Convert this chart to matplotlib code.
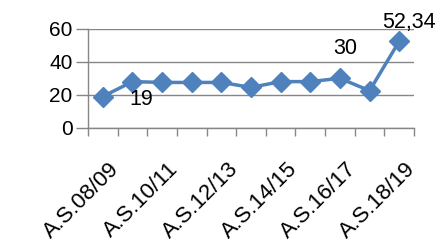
import numpy as np
import matplotlib.pyplot as plt
from matplotlib.transforms import ScaledTranslation

years = ['A.S.08/09', 'A.S.09/10', 'A.S.10/11', 'A.S.11/12', 'A.S.12/13', 'A.S.13/14',
         'A.S.14/15', 'A.S.15/16', 'A.S.16/17', 'A.S.17/18', 'A.S.18/19']
values = [19, 28, 27.5, 27.5, 27.5, 24.5, 28, 28, 30, 22.5, 52.34]
# index -> (text, offset in points)
shown_labels = {0: ('19', (27.7, -2.2)), 8: ('30', (3.6, 21.8)), 10: ('52,34', (7.2, 13.7))}

plt.rcParams['font.family'] = ['Liberation Sans', 'DejaVu Sans']

fig = plt.figure(figsize=(4.41, 2.47), dpi=100)
ax = fig.add_axes([0.1995, 0.482, 0.7393, 0.402])

x = np.arange(len(years))
ax.plot(x, values, color='#4F81BD', lw=2.5, marker='D', markersize=10,
        markeredgecolor='#4F81BD', zorder=3, clip_on=False)

for i, (txt, off) in shown_labels.items():
    ax.annotate(txt, (x[i], values[i]), xytext=off, textcoords='offset points',
                ha='center', va='center', fontsize=15.5)

ax.set_xlim(-0.5, len(years) - 0.5)
ax.set_ylim(0, 60)
ax.set_yticks([0, 20, 40, 60])
ax.yaxis.grid(True, color='#868686', lw=1)
ax.set_axisbelow(True)

ax.set_xticks(x[::2])
ax.set_xticklabels(years[::2], rotation=45, ha='right', rotation_mode='anchor', fontsize=16)
ax.set_xticks(np.arange(-0.5, len(years)), minor=True)
ax.tick_params(axis='x', which='major', length=0, pad=12)
ax.tick_params(axis='x', which='minor', length=6, color='#868686', width=1)
ax.tick_params(axis='y', length=9, color='#868686', width=1, labelsize=15, pad=2)

# nudge x labels down/right like the original
shift = ScaledTranslation(6 / 100, -14 / 100, fig.dpi_scale_trans)
for lab in ax.get_xticklabels():
    lab.set_transform(lab.get_transform() + shift)

for s in ['top', 'right']:
    ax.spines[s].set_visible(False)
for s in ['left', 'bottom']:
    ax.spines[s].set_color('#868686')
    ax.spines[s].set_linewidth(1)

fig.savefig('out.png', dpi=100)
